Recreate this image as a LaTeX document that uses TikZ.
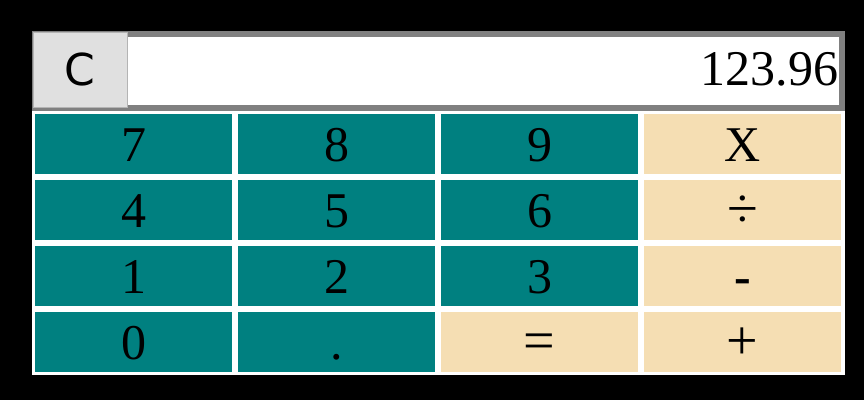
\documentclass[tikz,border=0pt]{standalone}
\usepackage{fontspec}
\setmainfont{Liberation Serif}
\newfontfamily\clearfont{DejaVu Sans}
\usepackage{tikz}
\usetikzlibrary{positioning}
\definecolor{cteal}{HTML}{008080}
\definecolor{cwheat}{HTML}{F5DEB3}
\definecolor{cframe}{HTML}{808080}
\definecolor{cclear}{HTML}{E0E0E0}
\definecolor{cclearedge}{HTML}{B4B4B4}
\newcommand{\Sym}[1]{\raisebox{0pt}{\fontsize{56}{60}\selectfont #1}}
\tikzset{
node distance=6pt,
Key/.style={
	inner sep=0pt, outer sep=0pt,
	minimum width=197pt, minimum height=60pt,
	text height=35pt, text depth=0pt,
	font=\fontsize{50}{60}\selectfont
},
Digit/.style={
	Key,
	fill=cteal
},
Operator/.style={
	Key,
	fill=cwheat
},
Frame/.style={
	fill=cframe, inner sep=0pt,
	minimum width=813pt, minimum height=80pt
},
Screen/.style={
	fill=white, inner sep=0pt,
	minimum width=712pt, minimum height=68pt
},
ClearKey/.style={
	fill=cclear, draw=cclearedge, line width=1pt, inner sep=0pt,
	minimum width=94pt, minimum height=75pt,
	font=\clearfont\fontsize{44}{52}\selectfont
},
Readout/.style={
	inner sep=0pt,
	text height=35pt, text depth=0pt,
	font=\fontsize{50}{60}\selectfont
}
}

\begin{document}
\begin{tikzpicture}[x=1pt, y=-1pt]
	\fill[black] (0,0) rectangle (864,400);
	\useasboundingbox (0,0) rectangle (864,400);
	\fill[white] (32,111) rectangle (845,375);

	\node[Frame] (frame) at (438.5,71) {};
	\node[Screen] (screen) at (483,71) {};
	\node[ClearKey] (clear) at (80,69.5) {C};
	\node[Readout, anchor=east, xshift=-1pt, yshift=3.5pt] (readout) at (screen.east) {123.96};

	\node[Digit] (k7) at (133.5,144) {7};
	\node[Digit, right=of k7] (k8) {8};
	\node[Digit, right=of k8] (k9) {9};
	\node[Operator, right=of k9] (kmul) {X};

	\node[Digit, below=of k7] (k4) {4};
	\node[Digit, right=of k4] (k5) {5};
	\node[Digit, right=of k5] (k6) {6};
	\node[Operator, right=of k6] (kdiv) {\Sym{÷}};

	\node[Digit, below=of k4] (k1) {1};
	\node[Digit, right=of k1] (k2) {2};
	\node[Digit, right=of k2] (k3) {3};
	\node[Operator, right=of k3] (ksub) {\bfseries -};

	\node[Digit, below=of k1] (k0) {0};
	\node[Digit, right=of k0] (kdot) {.};
	\node[Operator, right=of kdot] (keq) {\Sym{=}};
	\node[Operator, right=of keq] (kadd) {\Sym{+}};
\end{tikzpicture}
\end{document}
